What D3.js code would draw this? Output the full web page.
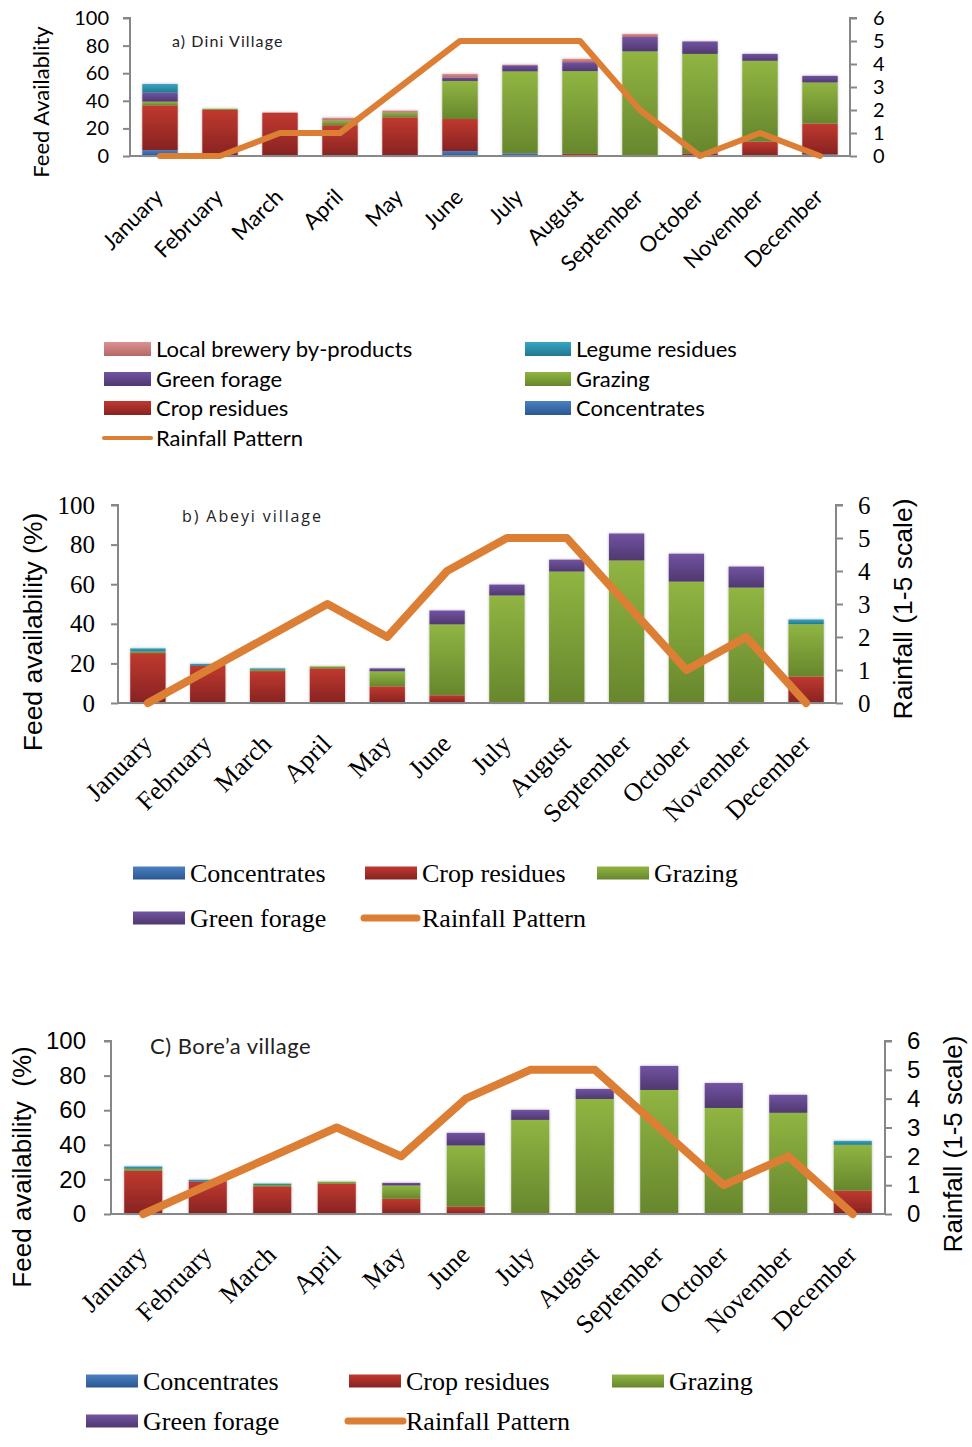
<!DOCTYPE html>
<html>
<head>
<meta charset="utf-8">
<script src="https://cdn.jsdelivr.net/npm/d3@7/dist/d3.min.js"></script>
<style>
  html, body { margin: 0; padding: 0; background: #fff; }
  svg { display: block; }
</style>
</head>
<body>
<svg id="chart" width="972" height="1447"></svg>
<script>
// ---- Data ----------------------------------------------------------------
const months = ["January","February","March","April","May","June","July","August","September","October","November","December"];
const seriesNames = ["Concentrates","Crop residues","Grazing","Green forage","Legume residues","Local brewery by-products"];

// a) Dini village (% feed availability, stacked bottom -> top)
const diniConcentrates = [4.3, 0, 0, 0, 0, 3.6, 2, 0, 0, 0, 0, 1.2];
const diniCropResidues = [32.4, 33.5, 31.4, 22.3, 28, 23.2, 0, 1.5, 0, 2, 10.4, 22.3];
const diniGrazing      = [2.7, 0.8, 0, 3.4, 3.4, 27.6, 59.3, 60, 75.8, 72, 58.6, 29.8];
const diniGreenForage  = [6.5, 0, 0, 0, 0, 2.4, 4.4, 6.5, 10.4, 9, 5, 4.8];
const diniLegume       = [6.3, 0, 0, 0, 0, 0, 0, 0, 0, 0, 0, 0];
const diniBrewery      = [0, 0, 0, 2, 1.5, 2.7, 0.5, 2.4, 2.2, 0, 0, 0];
const diniRainfall     = [0, 0, 1, 1, 3, 5, 5, 5, 2, 0, 1, 0];

// b) Abeyi village
const abeyiConcentrates = [0, 0, 0, 0, 0, 0, 0, 0, 0, 0, 0, 0];
const abeyiCropResidues = [25.2, 18.8, 16.1, 17.5, 8.4, 3.9, 0, 0, 0, 0, 0, 13.4];
const abeyiGrazing      = [0.8, 0, 0.7, 1, 7.6, 35.8, 54.3, 66.4, 72, 61.3, 58.3, 26.4];
const abeyiGreenForage  = [0, 0, 0, 0, 1.5, 7, 5.5, 6, 13.6, 14.1, 10.6, 0];
const abeyiLegume       = [1.6, 1, 0.7, 0, 0, 0, 0, 0, 0, 0, 0, 2.4];
const abeyiBrewery      = [0, 0, 0, 0, 0, 0, 0, 0, 0, 0, 0, 0];
const abeyiRainfall     = [0, 1, 2, 3, 2, 4, 5, 5, 3, 1, 2, 0];

// c) Bore'a village
const boreaConcentrates = [0, 0, 0, 0, 0, 0, 0, 0, 0, 0, 0, 0];
const boreaCropResidues = [25, 18.8, 16, 17.5, 8.8, 4.2, 0, 0, 0, 0, 0, 13.5];
const boreaGrazing      = [1.2, 0, 0.8, 1.2, 7.7, 35.4, 54.4, 66.5, 71.7, 61.3, 58.5, 26.5];
const boreaGreenForage  = [0, 0, 0, 0, 1.5, 7.3, 5.8, 5.8, 13.9, 14.4, 10.4, 0];
const boreaLegume       = [1.3, 1, 0.8, 0, 0, 0, 0, 0, 0, 0, 0, 2.3];
const boreaBrewery      = [0, 0, 0, 0, 0, 0, 0, 0, 0, 0, 0, 0];
const boreaRainfall     = [0, 1, 2, 3, 2, 4, 5, 5, 3, 1, 2, 0];

const feedTicks = [0, 20, 40, 60, 80, 100];
const rainTicks = [0, 1, 2, 3, 4, 5, 6];

// ---- Styling -------------------------------------------------------------
const seriesColors = {
  "Concentrates":              ["#4a7fc1", "#2b5892"],
  "Crop residues":             ["#c0392f", "#872322"],
  "Grazing":                   ["#90b542", "#67862d"],
  "Green forage":              ["#7253a2", "#4f386f"],
  "Legume residues":           ["#38a6c3", "#22788f"],
  "Local brewery by-products": ["#dd9190", "#b36867"]
};
const rainColor = "#dc7f35";
const axisColor = "#878787";

const svg = d3.select("#chart");
const defs = svg.append("defs");
const gradId = name => "g-" + name.replace(/[^a-z]/gi, "");
seriesNames.forEach(name => {
  const g = defs.append("linearGradient").attr("id", gradId(name))
    .attr("x1", 0).attr("y1", 0).attr("x2", 0).attr("y2", 1);
  g.append("stop").attr("offset", "0%").attr("stop-color", seriesColors[name][0]);
  g.append("stop").attr("offset", "100%").attr("stop-color", seriesColors[name][1]);
});
const shadow = defs.append("filter").attr("id", "barShadow")
  .attr("x", "-20%").attr("y", "-5%").attr("width", "140%").attr("height", "110%");
shadow.append("feDropShadow").attr("dx", 0).attr("dy", 0).attr("stdDeviation", 1.6)
  .attr("flood-color", "#000").attr("flood-opacity", 0.28);

function buildRows(cols) {
  return months.map((m, i) => {
    const row = { month: m };
    seriesNames.forEach((s, k) => row[s] = cols[k][i]);
    return row;
  });
}

// ---- Panel renderer ------------------------------------------------------
function drawPanel(p) {
  const g = svg.append("g");
  const x = d3.scaleBand().domain(months).range([p.x0, p.x1]).paddingInner(0.41).paddingOuter(0.205);
  const y = d3.scaleLinear().domain([0, 100]).range([p.yb, p.yt]);
  const yr = d3.scaleLinear().domain([0, 6]).range([p.yb, p.yt]);

  const rows = buildRows(p.cols);
  const stacked = d3.stack().keys(seriesNames)(rows);

  // stacked bars
  const layers = g.append("g").attr("filter", "url(#barShadow)");
  stacked.forEach(layer => {
    layers.append("g").attr("fill", `url(#${gradId(layer.key)})`)
      .selectAll("rect")
      .data(layer.filter(d => d[1] - d[0] > 0))
      .join("rect")
      .attr("x", d => x(d.data.month))
      .attr("width", x.bandwidth())
      .attr("y", d => y(d[1]))
      .attr("height", d => y(d[0]) - y(d[1]));
  });

  // left axis
  const left = g.append("g").attr("transform", `translate(${p.x0},0)`)
    .call(d3.axisLeft(y).tickValues(feedTicks).tickSize(7).tickPadding(p.tickPadL));
  // right axis
  const right = g.append("g").attr("transform", `translate(${p.x1},0)`)
    .call(d3.axisRight(yr).tickValues(rainTicks).tickFormat(d3.format("d")).tickSize(7).tickPadding(p.tickPadR));
  [left, right].forEach(a => {
    a.select(".domain").attr("stroke", axisColor).attr("stroke-width", 2);
    a.selectAll(".tick line").attr("stroke", axisColor).attr("stroke-width", 2);
    a.selectAll(".tick text").attr("fill", "#000")
      .style("font-family", p.tickFont).style("font-size", p.tickSize + "px");
  });
  left.select(".domain").attr("d", `M-7,${p.yt}H0V${p.yb}`);
  right.select(".domain").attr("d", `M7,${p.yt}H0V${p.yb}`);

  // category axis
  const bottom = g.append("g").attr("transform", `translate(0,${p.yb})`)
    .call(d3.axisBottom(x).tickSize(0).tickFormat(""));
  bottom.select(".domain").attr("stroke", axisColor).attr("stroke-width", 2)
    .attr("d", `M${p.x0},0H${p.x1}`);

  g.append("g").selectAll("text").data(months).join("text")
    .attr("transform", m => `translate(${x(m) + x.bandwidth() / 2 + p.monthDx},${p.yb + p.monthDy}) rotate(-45)`)
    .attr("text-anchor", "end").attr("dy", "0.35em")
    .style("font-family", p.monthFont).style("font-size", p.monthSize + "px")
    .text(m => m);

  // rainfall line
  const line = d3.line()
    .x((d, i) => x(months[i]) + x.bandwidth() / 2)
    .y(d => yr(d));
  g.append("path").datum(p.rain)
    .attr("d", line).attr("fill", "none")
    .attr("stroke", rainColor).attr("stroke-width", p.lineWidth)
    .attr("stroke-linejoin", "round").attr("stroke-linecap", "round");

  // axis titles
  if (p.leftTitle) {
    g.append("text").attr("transform", `translate(${p.leftTitle.x},${p.leftTitle.y}) rotate(-90)`)
      .attr("text-anchor", "middle").attr("dy", "0.35em")
      .style("font-family", p.leftTitle.font).style("font-size", p.leftTitle.size + "px")
      .style("white-space", "pre")
      .text(p.leftTitle.text);
  }
  if (p.rightTitle) {
    g.append("text").attr("transform", `translate(${p.rightTitle.x},${p.rightTitle.y}) rotate(-90)`)
      .attr("text-anchor", "middle").attr("dy", "0.35em")
      .style("font-family", p.rightTitle.font).style("font-size", p.rightTitle.size + "px")
      .text(p.rightTitle.text);
  }

  // panel label
  g.append("text").attr("x", p.label.x).attr("y", p.label.y)
    .style("font-family", p.label.font).style("font-size", p.label.size + "px")
    .style("letter-spacing", p.label.spacing + "px")
    .attr("fill", "#222")
    .text(p.label.text);

  // legend
  const lg = g.append("g");
  p.legend.forEach(item => {
    if (item.name === "Rainfall Pattern") {
      lg.append("line").attr("x1", item.sx).attr("x2", item.sx + item.sw)
        .attr("y1", item.y).attr("y2", item.y)
        .attr("stroke", rainColor).attr("stroke-width", p.legendLine)
        .attr("stroke-linecap", "round");
    } else {
      lg.append("rect").attr("x", item.sx).attr("y", item.y - p.swatchH / 2)
        .attr("width", item.sw).attr("height", p.swatchH)
        .attr("fill", `url(#${gradId(item.name)})`);
    }
    lg.append("text").attr("x", item.tx).attr("y", item.y).attr("dy", "0.35em")
      .style("font-family", p.legendFont).style("font-size", p.legendSize + "px")
      .text(item.name);
  });
}

// ---- Panels --------------------------------------------------------------
drawPanel({
  x0: 130, x1: 850, yt: 18, yb: 156,
  cols: [diniConcentrates, diniCropResidues, diniGrazing, diniGreenForage, diniLegume, diniBrewery],
  rain: diniRainfall, lineWidth: 6,
  tickFont: "Lato", tickSize: 20, tickPadL: 14, tickPadR: 16,
  monthFont: "Lato", monthSize: 22, monthDx: -1, monthDy: 37,
  leftTitle: { text: "Feed Availablity", x: 41, y: 102, font: "Lato", size: 22 },
  rightTitle: null,
  label: { text: "a) Dini Village", x: 172, y: 47, font: "Lato", size: 16, spacing: 1.1 },
  legendFont: "Lato", legendSize: 22, swatchH: 14, legendLine: 4,
  legend: [
    { name: "Local brewery by-products", sx: 104, sw: 47, tx: 156, y: 349 },
    { name: "Legume residues",           sx: 525, sw: 46, tx: 576, y: 349 },
    { name: "Green forage",              sx: 104, sw: 47, tx: 156, y: 379 },
    { name: "Grazing",                   sx: 525, sw: 46, tx: 576, y: 379 },
    { name: "Crop residues",             sx: 104, sw: 47, tx: 156, y: 408 },
    { name: "Concentrates",              sx: 525, sw: 46, tx: 576, y: 408 },
    { name: "Rainfall Pattern",          sx: 104, sw: 47, tx: 156, y: 438 }
  ]
});

drawPanel({
  x0: 118, x1: 836, yt: 505, yb: 703,
  cols: [abeyiConcentrates, abeyiCropResidues, abeyiGrazing, abeyiGreenForage, abeyiLegume, abeyiBrewery],
  rain: abeyiRainfall, lineWidth: 8,
  tickFont: "Liberation Serif", tickSize: 25, tickPadL: 16, tickPadR: 15,
  monthFont: "Liberation Serif", monthSize: 26, monthDx: -1, monthDy: 36,
  leftTitle: { text: "Feed availability (%)", x: 33, y: 632, font: "Liberation Sans", size: 26.5 },
  rightTitle: { text: "Rainfall (1-5 scale)", x: 903, y: 609, font: "Liberation Sans", size: 26.5 },
  label: { text: "b) Abeyi village", x: 182, y: 522, font: "Open Sans", size: 16, spacing: 1.9 },
  legendFont: "Liberation Serif", legendSize: 26, swatchH: 13, legendLine: 7,
  legend: [
    { name: "Concentrates",     sx: 133, sw: 52, tx: 190, y: 873 },
    { name: "Crop residues",    sx: 365, sw: 52, tx: 422, y: 873 },
    { name: "Grazing",          sx: 597, sw: 52, tx: 654, y: 873 },
    { name: "Green forage",     sx: 133, sw: 52, tx: 190, y: 918 },
    { name: "Rainfall Pattern", sx: 364, sw: 53, tx: 422, y: 918 }
  ]
});

drawPanel({
  x0: 111, x1: 885, yt: 1041, yb: 1214,
  cols: [boreaConcentrates, boreaCropResidues, boreaGrazing, boreaGreenForage, boreaLegume, boreaBrewery],
  rain: boreaRainfall, lineWidth: 8,
  tickFont: "Liberation Sans", tickSize: 24, tickPadL: 18, tickPadR: 15,
  monthFont: "Liberation Serif", monthSize: 26, monthDx: -1, monthDy: 36,
  leftTitle: { text: "Feed availability  (%)", x: 22, y: 1167, font: "Liberation Sans", size: 26 },
  rightTitle: { text: "Rainfall (1-5 scale)", x: 953, y: 1144, font: "Liberation Sans", size: 26 },
  label: { text: "C) Bore\u2019a village", x: 150, y: 1054, font: "Lato", size: 22, spacing: 0.5 },
  legendFont: "Liberation Serif", legendSize: 26, swatchH: 13, legendLine: 7,
  legend: [
    { name: "Concentrates",     sx: 86,  sw: 52, tx: 143, y: 1381 },
    { name: "Crop residues",    sx: 349, sw: 52, tx: 406, y: 1381 },
    { name: "Grazing",          sx: 612, sw: 52, tx: 669, y: 1381 },
    { name: "Green forage",     sx: 86,  sw: 52, tx: 143, y: 1421 },
    { name: "Rainfall Pattern", sx: 348, sw: 55, tx: 406, y: 1421 }
  ]
});
</script>
</body>
</html>
